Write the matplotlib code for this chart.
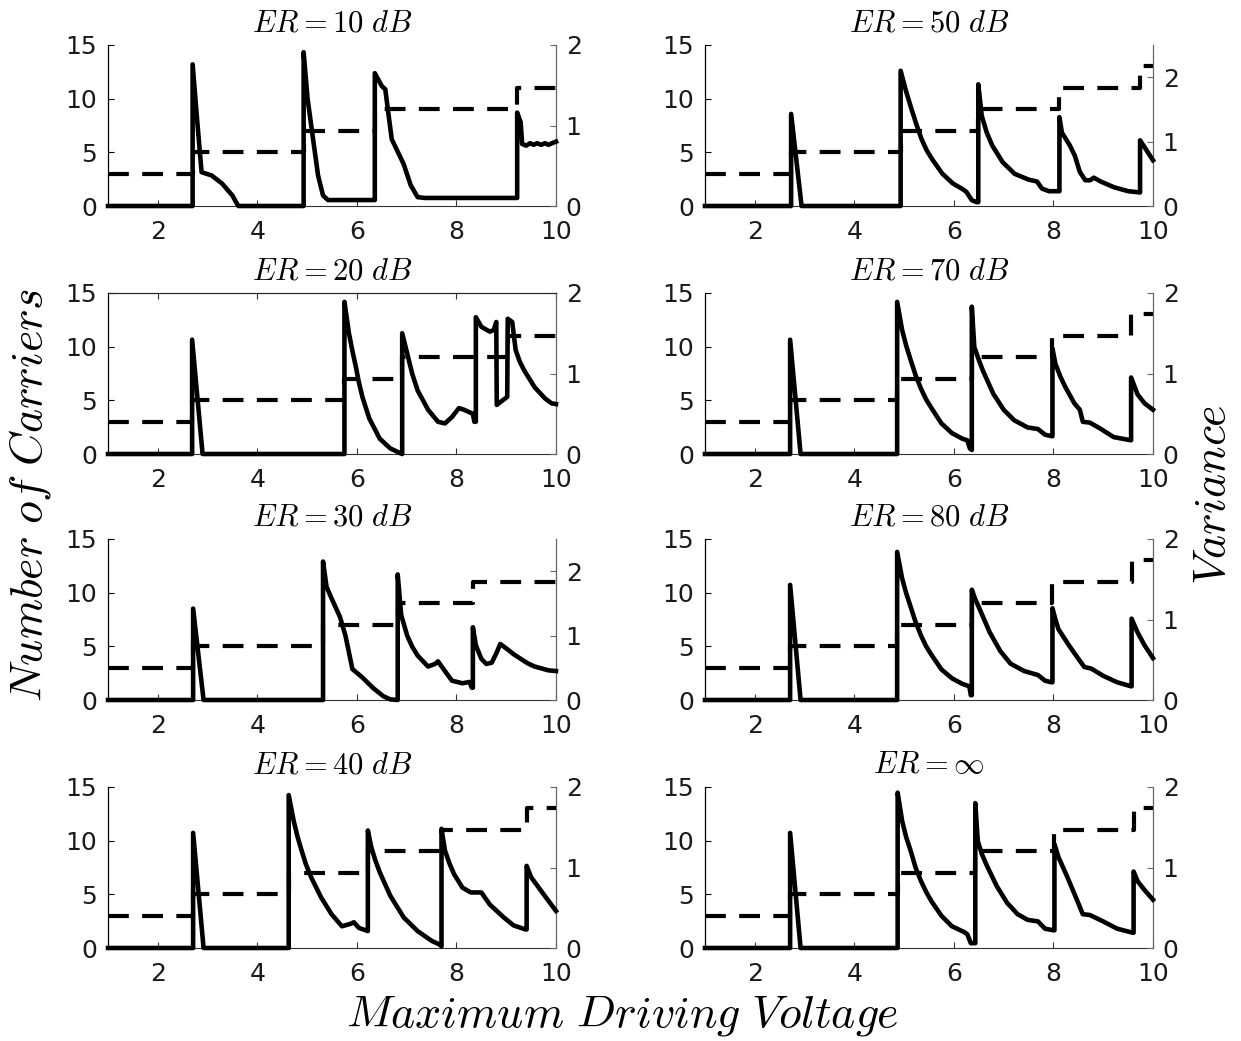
import matplotlib
matplotlib.use("Agg")
import matplotlib.pyplot as plt

plt.rcParams['mathtext.fontset'] = 'cm'
plt.rcParams['font.family'] = ['DejaVu Sans']

# ---------------- data ----------------
titles = [r'$ER = 10\ dB$', r'$ER = 50\ dB$',
          r'$ER = 20\ dB$', r'$ER = 70\ dB$',
          r'$ER = 30\ dB$', r'$ER = 80\ dB$',
          r'$ER = 40\ dB$', r'$ER = \infty$']

# number of carriers (step functions): edges + values
carr_edges_10 = [1, 2.70, 4.93, 6.36, 9.22, 10]
carr_vals_10 = [3, 5, 7, 9, 11]
carr_edges_50 = [1, 2.73, 4.93, 6.49, 8.12, 9.74, 10]
carr_vals_50 = [3, 5, 7, 9, 11, 13]
carr_edges_20 = [1, 2.69, 5.75, 6.91, 9.03, 10]
carr_vals_20 = [3, 5, 7, 9, 11]
carr_edges_70 = [1, 2.71, 4.86, 6.36, 7.98, 9.56, 10]
carr_vals_70 = [3, 5, 7, 9, 11, 13]
carr_edges_30 = [1, 2.71, 5.32, 6.82, 8.33, 10]
carr_vals_30 = [3, 5, 7, 9, 11]
carr_edges_80 = [1, 2.71, 4.86, 6.36, 7.98, 9.57, 10]
carr_vals_80 = [3, 5, 7, 9, 11, 13]
carr_edges_40 = [1, 2.71, 4.63, 6.22, 7.70, 9.41, 10]
carr_vals_40 = [3, 5, 7, 9, 11, 13]
carr_edges_inf = [1, 2.71, 4.87, 6.43, 8.02, 9.61, 10]
carr_vals_inf = [3, 5, 7, 9, 11, 13]

# variance curves
var_x_10 = [1.0, 2.70, 2.70, 2.80, 2.88, 3.08, 3.29, 3.50, 3.57, 3.62, 4.93, 4.93, 5.01, 5.12, 5.22, 5.32, 5.42,
            6.36, 6.36, 6.50, 6.57, 6.70, 6.94, 7.08, 7.22, 7.36, 9.22, 9.22, 9.29, 9.32, 9.40, 9.48,
            9.55, 9.62, 9.70, 9.78, 9.85, 9.92, 10.0]
var_y_10 = [0, 0, 1.76, 1.0, 0.42, 0.38, 0.28, 0.13, 0.05, 0, 0, 1.91, 1.33, 0.83, 0.38, 0.13, 0.074,
            0.074, 1.65, 1.49, 1.45, 0.83, 0.52, 0.26, 0.11, 0.10, 0.10, 1.16, 1.04, 0.77, 0.75, 0.78,
            0.76, 0.78, 0.76, 0.78, 0.76, 0.78, 0.80]

var_x_50 = [1.0, 2.73, 2.73, 2.94, 4.93, 4.93, 5.04, 5.15, 5.25, 5.35, 5.45, 5.56, 5.77, 5.98, 6.18, 6.25, 6.36, 6.46,
            6.49, 6.49, 6.56, 6.66, 6.77, 6.98, 7.22, 7.50, 7.67, 7.77, 7.91, 8.12, 8.12, 8.17, 8.33, 8.43,
            8.53, 8.64, 8.74, 8.81, 8.95, 9.22, 9.50, 9.74, 9.74, 9.85, 10.0]
var_y_50 = [0, 0, 1.43, 0, 0, 2.10, 1.78, 1.50, 1.26, 1.04, 0.87, 0.73, 0.50, 0.35, 0.26, 0.22, 0.09, 0.06,
            0.06, 1.89, 1.40, 1.14, 0.94, 0.68, 0.50, 0.41, 0.38, 0.27, 0.23, 0.23, 1.38, 1.14, 0.94, 0.78,
            0.53, 0.40, 0.40, 0.44, 0.38, 0.29, 0.23, 0.21, 1.02, 0.89, 0.71]

var_x_20 = [1.0, 2.69, 2.69, 2.90, 5.75, 5.75, 5.84, 5.91, 5.98, 6.04, 6.11, 6.25, 6.46, 6.67, 6.87, 6.91, 6.91,
            7.01, 7.11, 7.22, 7.43, 7.63, 7.77, 7.91, 8.05, 8.15, 8.33, 8.36, 8.39, 8.39, 8.50, 8.67, 8.75,
            8.80, 8.81, 9.02, 9.03, 9.12, 9.19, 9.27, 9.36, 9.57, 9.78, 9.91, 10.0]
var_y_20 = [0, 0, 1.42, 0, 0, 1.89, 1.50, 1.28, 1.08, 0.89, 0.71, 0.44, 0.19, 0.07, 0.01, 0, 1.50,
            1.25, 1.00, 0.79, 0.55, 0.40, 0.38, 0.46, 0.57, 0.55, 0.50, 0.40, 0.40, 1.70, 1.58, 1.52, 1.54,
            1.64, 0.61, 0.71, 1.68, 1.64, 1.29, 1.15, 1.04, 0.83, 0.69, 0.63, 0.62]

var_x_70 = [1.0, 2.71, 2.71, 2.92, 4.86, 4.86, 4.96, 5.04, 5.13, 5.23, 5.34, 5.44, 5.55, 5.75, 5.96, 6.17, 6.27, 6.32,
            6.36, 6.36, 6.41, 6.50, 6.58, 6.79, 7.00, 7.21, 7.48, 7.69, 7.83, 7.98, 7.98, 8.04, 8.14, 8.24, 8.42,
            8.53, 8.59, 8.73, 8.93, 9.21, 9.56, 9.56, 9.69, 9.83, 10.0]
var_y_70 = [0, 0, 1.42, 0, 0, 1.89, 1.54, 1.35, 1.17, 0.98, 0.81, 0.68, 0.57, 0.38, 0.26, 0.19, 0.17, 0.07,
            0.05, 1.83, 1.33, 1.17, 1.04, 0.75, 0.55, 0.42, 0.33, 0.31, 0.24, 0.22, 1.31, 1.12, 0.96, 0.83, 0.63,
            0.55, 0.40, 0.39, 0.32, 0.21, 0.17, 0.95, 0.74, 0.63, 0.55]

var_x_30 = [1.0, 2.71, 2.71, 2.92, 5.32, 5.32, 5.39, 5.49, 5.66, 5.77, 5.91, 6.11, 6.32, 6.53, 6.67,
            6.82, 6.82, 6.89, 7.01, 7.11, 7.22, 7.43, 7.57, 7.63, 7.74, 7.91, 8.12, 8.26, 8.31, 8.33, 8.33,
            8.39, 8.50, 8.60, 8.71, 8.81, 8.88, 9.02, 9.15, 9.29, 9.43, 9.57, 9.85, 10.0]
var_y_30 = [0, 0, 1.42, 0, 0, 2.15, 1.76, 1.58, 1.29, 1.00, 0.48, 0.35, 0.19, 0.06, 0.01,
            0, 1.95, 1.32, 1.00, 0.83, 0.69, 0.52, 0.56, 0.60, 0.48, 0.30, 0.26, 0.28, 0.19, 0.19, 1.13,
            0.85, 0.64, 0.56, 0.58, 0.74, 0.87, 0.79, 0.71, 0.64, 0.57, 0.52, 0.46, 0.45]

var_x_80 = [1.0, 2.71, 2.71, 2.92, 4.86, 4.86, 4.96, 5.04, 5.13, 5.23, 5.34, 5.44, 5.55, 5.75, 5.96, 6.17, 6.31, 6.34,
            6.36, 6.36, 6.43, 6.51, 6.72, 6.93, 7.14, 7.41, 7.69, 7.83, 7.96, 7.98, 7.98, 8.04, 8.10, 8.31, 8.48,
            8.62, 8.76, 9.00, 9.28, 9.56, 9.57, 9.57, 9.69, 9.83, 10.0]
var_y_80 = [0, 0, 1.43, 0, 0, 1.84, 1.51, 1.33, 1.16, 0.97, 0.80, 0.67, 0.56, 0.38, 0.27, 0.20, 0.17, 0.06,
            0.06, 1.37, 1.25, 1.14, 0.84, 0.61, 0.45, 0.36, 0.31, 0.24, 0.22, 0.22, 1.14, 1.00, 0.88, 0.68, 0.53,
            0.41, 0.39, 0.30, 0.22, 0.17, 0.17, 1.01, 0.84, 0.68, 0.52]

var_x_40 = [1.0, 2.71, 2.71, 2.92, 4.63, 4.63, 4.73, 4.80, 4.87, 4.97, 5.08, 5.28, 5.49, 5.70, 5.87, 5.94, 6.04,
            6.22, 6.22, 6.29, 6.37, 6.46, 6.67, 6.94, 7.22, 7.50, 7.67, 7.70, 7.70, 7.77, 7.86, 7.95, 8.12, 8.29,
            8.50, 8.67, 8.95, 9.15, 9.39, 9.41, 9.41, 9.50, 9.70, 10.0]
var_y_40 = [0, 0, 1.43, 0, 0, 1.90, 1.58, 1.40, 1.25, 1.05, 0.88, 0.63, 0.42, 0.27, 0.30, 0.32, 0.25,
            0.21, 1.46, 1.25, 1.09, 0.94, 0.65, 0.38, 0.21, 0.09, 0.04, 0.02, 1.48, 1.21, 1.05, 0.92, 0.75, 0.69,
            0.69, 0.54, 0.38, 0.28, 0.23, 0.23, 1.02, 0.88, 0.71, 0.46]

var_x_inf = [1.0, 2.71, 2.71, 2.92, 4.87, 4.87, 4.96, 5.04, 5.13, 5.23, 5.34, 5.44, 5.55, 5.75, 5.96, 6.20, 6.27, 6.34,
             6.43, 6.43, 6.48, 6.56, 6.65, 6.86, 7.07, 7.28, 7.48, 7.69, 7.83, 8.00, 8.02, 8.02, 8.10, 8.28,
             8.45, 8.59, 8.73, 9.00, 9.28, 9.59, 9.61, 9.61, 9.69, 9.83, 10.0]
var_y_inf = [0, 0, 1.43, 0, 0, 1.93, 1.58, 1.38, 1.21, 1.00, 0.83, 0.70, 0.58, 0.40, 0.27, 0.20, 0.17, 0.06,
             0.06, 1.80, 1.33, 1.17, 1.04, 0.77, 0.56, 0.42, 0.35, 0.33, 0.24, 0.22, 0.22, 1.29, 1.13, 0.88,
             0.63, 0.42, 0.41, 0.33, 0.24, 0.19, 0.19, 0.95, 0.83, 0.72, 0.60]

var_ymax = [2, 2.5, 2, 2, 2.5, 2, 2, 2]

carr_edges = [carr_edges_10, carr_edges_50, carr_edges_20, carr_edges_70,
              carr_edges_30, carr_edges_80, carr_edges_40, carr_edges_inf]
carr_vals = [carr_vals_10, carr_vals_50, carr_vals_20, carr_vals_70,
             carr_vals_30, carr_vals_80, carr_vals_40, carr_vals_inf]
var_xs = [var_x_10, var_x_50, var_x_20, var_x_70, var_x_30, var_x_80, var_x_40, var_x_inf]
var_ys = [var_y_10, var_y_50, var_y_20, var_y_70, var_y_30, var_y_80, var_y_40, var_y_inf]

# ---------------- figure ----------------
W, H = 1241, 1041
fig = plt.figure(figsize=(W / 100, H / 100), dpi=100)

col_x = [108, 705]
ax_w = 448
row_top = [45, 293, 539, 787]
ax_h = 161

tick_color = '#1a1a1a'
for i in range(8):
    r, c = divmod(i, 2)
    left = col_x[c] / W
    bottom = 1 - (row_top[r] + ax_h) / H
    ax = fig.add_axes([left, bottom, ax_w / W, ax_h / H])
    ax2 = ax.twinx()

    e = carr_edges[i]
    v = carr_vals[i]
    ax.plot(e, v + [v[-1]], drawstyle='steps-post', color='k', lw=3.0,
            ls=(0, (5.0, 3.2)), clip_on=False, zorder=3)
    ax2.plot(var_xs[i], var_ys[i], color='k', lw=3.3, solid_joinstyle='round',
             clip_on=False, zorder=3)

    ax.set_xlim(1, 10)
    ax.set_ylim(0, 15)
    ax2.set_ylim(0, var_ymax[i])
    ax.set_xticks([2, 4, 6, 8, 10])
    ax.set_yticks([0, 5, 10, 15])
    ax2.set_yticks([0, 1, 2])

    has_top = (i == 2)
    for a in (ax, ax2):
        a.spines['top'].set_visible(has_top)
        a.spines['top'].set_color('#262626')
        a.spines['top'].set_linewidth(0.8)
    ax.spines['left'].set_color('k')
    ax.spines['left'].set_linewidth(0.9)
    ax2.spines['left'].set_visible(False)
    ax.spines['right'].set_visible(False)
    ax2.spines['right'].set_color('#666666')
    ax2.spines['right'].set_linewidth(0.9)
    ax.spines['bottom'].set_color('#333333')
    ax.spines['bottom'].set_linewidth(0.8)
    ax2.spines['bottom'].set_visible(False)

    ax.tick_params(axis='x', direction='in', length=4, width=0.8, pad=10,
                   labelsize=18, colors='#333333', labelcolor=tick_color, top=has_top)
    ax.tick_params(axis='y', direction='in', length=4, width=0.8, pad=8,
                   labelsize=18, colors='k', labelcolor=tick_color)
    ax2.tick_params(axis='y', direction='in', length=4, width=0.8, pad=7,
                    labelsize=18, colors='#666666', labelcolor=tick_color)

    ax.set_title(titles[i], fontsize=22, pad=10)
    ax2.set_zorder(ax.get_zorder() + 1)
    ax2.patch.set_visible(False)

fig.text(30 / W, 1 - 495 / H, r'$Number\ of\ Carriers$', rotation=90,
         ha='center', va='center', fontsize=33)
fig.text(1212 / W, 1 - 495 / H, r'$Variance$', rotation=90,
         ha='center', va='center', fontsize=33)
fig.text(622 / W, 1 - 1015 / H, r'$Maximum\ Driving\ Voltage$',
         ha='center', va='center', fontsize=33)

fig.savefig('out.png', dpi=100, facecolor='white')
